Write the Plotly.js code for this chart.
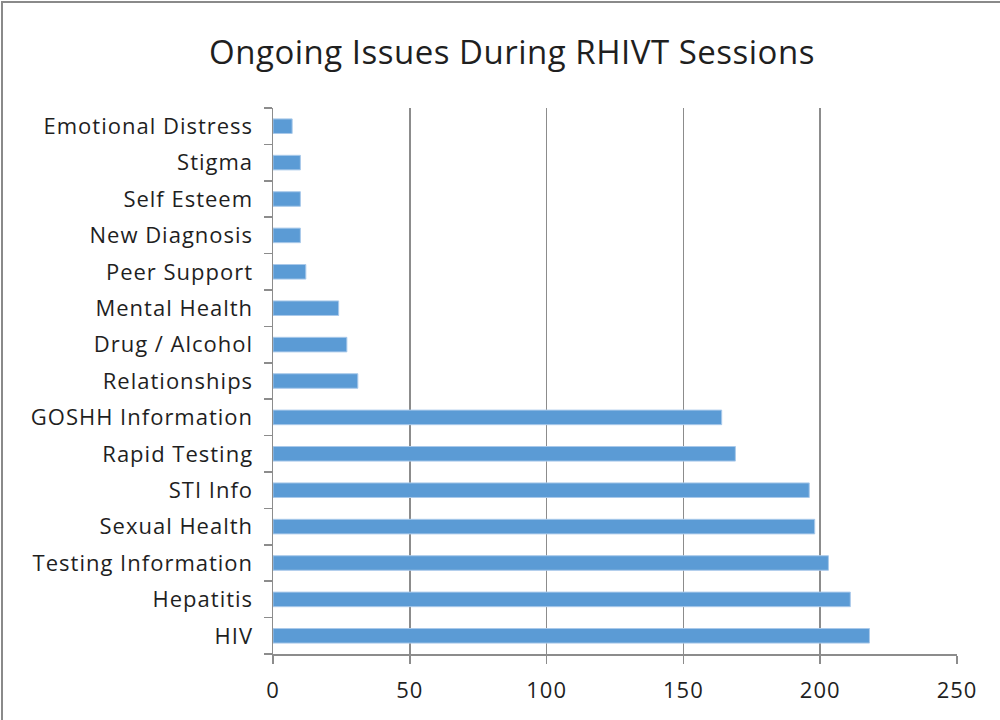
<!DOCTYPE html>
<html>
<head>
<meta charset="utf-8">
<script src="https://cdn.plot.ly/plotly-3.0.1.min.js"></script>
<style>
  html, body { margin: 0; padding: 0; background: #fff; }
  #wrap { position: absolute; left: 0; top: 0; width: 1000px; height: 720px; }
  #frame { position: absolute; left: 1px; top: 1px; width: 999px; height: 719px;
           border-left: 2px solid #8a8a8a; border-top: 2px solid #8a8a8a; box-sizing: border-box; pointer-events: none; }
  #chart { width: 1000px; height: 720px; }
  #chart .ytick text, #chart .xtick text { letter-spacing: 1px; }
  #chart .gtitle { letter-spacing: 0.5px; }
</style>
</head>
<body>
<div id="wrap">
  <div id="chart"></div>
  <div id="frame"></div>
</div>
<script>
// Categories listed bottom-to-top as they appear on the chart
const categories = [
  "HIV", "Hepatitis", "Testing Information", "Sexual Health", "STI Info",
  "Rapid Testing", "GOSHH Information", "Relationships", "Drug / Alcohol",
  "Mental Health", "Peer Support", "New Diagnosis", "Self Esteem", "Stigma",
  "Emotional Distress"
];
const counts = [218, 211, 203, 198, 196, 169, 164, 31, 27, 24, 12, 10, 10, 10, 7];
const xTicks = [0, 50, 100, 150, 200, 250];
const chartTitle = "Ongoing Issues During RHIVT Sessions";

const fontFam = "'Open Sans', 'Noto Sans', 'DejaVu Sans', sans-serif";
const gridCol = "#8c8c8c";

Plotly.newPlot("chart", [{
  type: "bar",
  orientation: "h",
  y: categories,
  x: counts,
  marker: { color: "#5b9bd5", line: { color: "#a9c9ea", width: 1 } },
  hoverinfo: "x+y"
}], {
  width: 1000,
  height: 720,
  paper_bgcolor: "rgba(0,0,0,0)",
  plot_bgcolor: "#ffffff",
  margin: { l: 273, r: 43, t: 108, b: 66 },
  bargap: 0.6,
  showlegend: false,
  title: {
    text: chartTitle,
    font: { family: fontFam, size: 33, color: "#1f1f1f" },
    x: 0.512, xanchor: "center", xref: "container",
    y: 0.927, yanchor: "middle", yref: "container"
  },
  xaxis: {
    range: [0, 250],
    tickvals: xTicks,
    ticktext: xTicks.map(String),
    showgrid: true,
    gridcolor: gridCol,
    gridwidth: 1.5,
    zeroline: false,
    showline: true,
    linecolor: gridCol,
    linewidth: 1.5,
    ticks: "outside",
    ticklen: 8,
    tickcolor: gridCol,
    tickwidth: 1.5,
    ticklabelstandoff: 8,
    tickfont: { family: fontFam, size: 22, color: "#1f1f1f" },
    fixedrange: true
  },
  yaxis: {
    type: "category",
    categoryorder: "array",
    categoryarray: categories,
    tickson: "boundaries",
    ticks: "outside",
    ticklen: 8,
    tickcolor: gridCol,
    tickwidth: 1.5,
    showline: true,
    linecolor: gridCol,
    linewidth: 1.5,
    showgrid: false,
    ticklabelstandoff: 14,
    tickfont: { family: fontFam, size: 22, color: "#1f1f1f" },
    fixedrange: true
  }
}, { displayModeBar: false, staticPlot: true });
</script>
</body>
</html>
